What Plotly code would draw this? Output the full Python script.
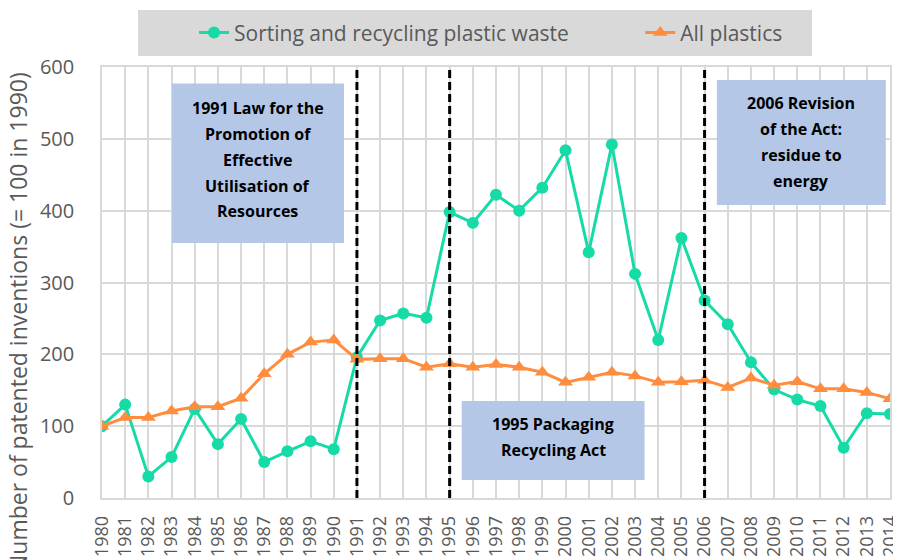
import plotly.graph_objects as go

years = list(range(1980, 2015))

sorting = [100, 130, 30, 57, 124, 75, 110, 50, 65, 79, 68,
           196, 247, 257, 251, 398, 383, 422, 400, 432, 484,
           342, 492, 312, 220, 362, 275, 242, 189, 151, 137,
           128, 70, 118, 117]

all_plastics = [100, 112, 112, 121, 127, 127, 139, 173, 200, 217, 220,
                193, 194, 194, 182, 187, 182, 186, 182, 175, 161,
                168, 175, 170, 161, 162, 164, 154, 167, 157, 162,
                152, 152, 147, 138]

policy_years = [1991, 1995, 2006]

# text boxes: (x0, x1, y0, y1, lines)
boxes = [
    (1983.02, 1990.44, 355, 577,
     ["1991 Law for the", "Promotion of", "Effective", "Utilisation of", "Resources"]),
    (1995.52, 2003.41, 25, 135,
     ["1995 Packaging", "Recycling Act"]),
    (2006.53, 2013.82, 408, 582,
     ["2006 Revision", "of the Act:", "residue to", "energy"]),
]
box_first_line = [543, 103, 550]
line_step = 36

GREEN = "#16DBA6"
ORANGE = "#FF8D3F"
GREY_TXT = "#595959"
GRID = "#D9D9D9"
FONT = "Open Sans"

fig = go.Figure()

fig.add_trace(go.Scatter(
    x=years, y=sorting, name="Sorting and recycling plastic waste",
    mode="lines+markers", legend="legend",
    line=dict(color=GREEN, width=3),
    marker=dict(symbol="circle", size=12, color=GREEN),
))
fig.add_trace(go.Scatter(
    x=years, y=all_plastics, name="All plastics",
    mode="lines+markers", legend="legend2",
    line=dict(color=ORANGE, width=3),
    marker=dict(symbol="triangle-up", size=13, color=ORANGE),
))

for yr in policy_years:
    fig.add_shape(type="line", x0=yr, x1=yr, y0=0, y1=600,
                  xref="x", yref="y",
                  line=dict(color="black", width=3, dash="8px,4px"))

for (x0, x1, y0, y1, lines), ytop in zip(boxes, box_first_line):
    fig.add_shape(type="rect", x0=x0, x1=x1, y0=y0, y1=y1,
                  xref="x", yref="y", layer="above",
                  fillcolor="#B4C7E7", line=dict(width=0))
    for i, txt in enumerate(lines):
        fig.add_annotation(x=(x0 + x1) / 2, y=ytop - i * line_step,
                           xref="x", yref="y", text="<b>" + txt + "</b>",
                           showarrow=False,
                           font=dict(family=FONT, size=16, color="black"))

# legend background
fig.add_shape(type="rect", xref="paper", yref="paper",
              x0=0.0457, x1=0.901, y0=1.0255, y1=1.132,
              fillcolor=GRID, line=dict(width=0), layer="below")

fig.add_annotation(
    text="Number of patented inventions (= 100 in 1990)",
    xref="paper", yref="paper", x=-0.1066, y=0.993,
    xanchor="center", yanchor="top", textangle=-90, showarrow=False,
    font=dict(family=FONT, size=23, color=GREY_TXT))

fig.update_xaxes(
    range=[1980, 2014], tickvals=years, ticktext=[str(y) for y in years],
    tickangle=-90, showgrid=True, gridcolor=GRID, gridwidth=1.5,
    showline=True, linecolor=GRID, linewidth=1.5, mirror=True,
    zeroline=False, ticklabelstandoff=9,
    tickfont=dict(family=FONT, size=18, color=GREY_TXT))
fig.update_yaxes(
    range=[0, 600], dtick=100, showgrid=True, gridcolor=GRID, gridwidth=1.5,
    showline=True, linecolor=GRID, linewidth=1.5, mirror=True,
    zeroline=False, ticklabelstandoff=22,
    tickfont=dict(family=FONT, size=20, color=GREY_TXT))

legend_style = dict(orientation="h", xanchor="left", y=1.079, yanchor="middle",
                    bgcolor="rgba(0,0,0,0)",
                    font=dict(family=FONT, size=21, color=GREY_TXT))

# the page body adds an 8px offset, so the figure is 8px smaller than the window
fig.update_layout(
    width=893, height=552,
    margin=dict(l=94, r=11, t=59, b=62, autoexpand=False),
    plot_bgcolor="white", paper_bgcolor="white",
    font=dict(family=FONT, color=GREY_TXT),
    showlegend=True,
    legend=dict(x=0.1168, **legend_style),
    legend2=dict(x=0.683, **legend_style),
)

fig.write_html("out.html")
